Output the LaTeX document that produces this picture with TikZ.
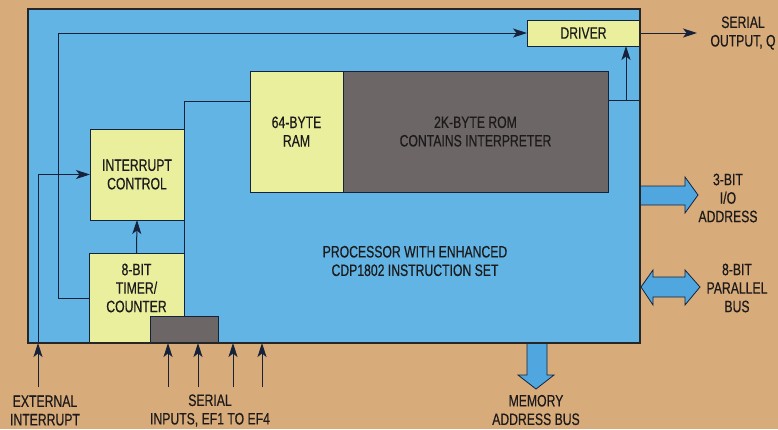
\documentclass[tikz,border=0pt]{standalone}
\usepackage{fontspec}
\setmainfont{Liberation Sans}[FakeStretch=0.74, FakeBold=0.4]
\usetikzlibrary{arrows.meta,positioning,calc}

\definecolor{paper}{RGB}{216,171,122}
\definecolor{chipblue}{RGB}{98,180,228}
\definecolor{busblue}{RGB}{80,166,222}
\definecolor{unityellow}{RGB}{233,239,156}
\definecolor{romgray}{RGB}{108,102,103}
\definecolor{linecol}{RGB}{22,34,58}
\definecolor{ink}{RGB}{28,26,26}

\begin{document}
\begin{tikzpicture}[x=1pt, y=-1pt,
    box/.style={draw=linecol, line width=1pt, rectangle, inner sep=0pt, outer sep=0pt, align=center, text=ink,
                font=\fontsize{16.5}{18.5}\selectfont},
    chip/.style={box, fill=chipblue, draw=black!85, line width=2.6pt},
    unit/.style={box, fill=unityellow},
    rom/.style={box, fill=romgray},
    link/.style={draw=linecol, line width=1pt},
    arrow/.style={link, -{Stealth[length=14pt, width=9pt, inset=3.5pt]}},
    bus/.style={fill=busblue, draw=linecol, line width=0.8pt, line join=miter},
    caption/.style={align=center, text=ink, inner sep=0pt, font=\fontsize{16.5}{18.5}\selectfont}
]

% Background
\fill[paper] (0,0) rectangle (778,429);
\useasboundingbox (0,0) rectangle (778,429);

% Blocks
\node[chip, minimum width=612pt, minimum height=334pt] (cpu) at (334,176) {};
\node[unit, minimum width=113pt, minimum height=26pt] (driver) at (583.5,33) {DRIVER};
\node[unit, minimum width=93pt, minimum height=121pt] (ram) at (296.5,131.5) {64-BYTE\\RAM};
\node[rom, minimum width=265pt, minimum height=121pt] (rom) at (475.5,131.5) {2K-BYTE ROM\\CONTAINS INTERPRETER};
\node[unit, minimum width=94pt, minimum height=91pt] (intctrl) at (137,174.5) {INTERRUPT\\CONTROL};
\node[unit, minimum width=95pt, minimum height=90pt,
      label={[caption, yshift=10pt]center:{8-BIT\\TIMER/\\COUNTER}}] (timer) at (136.5,298) {};
\node[rom, minimum width=68pt, minimum height=27pt] (flags) at (184,329.5) {};
\node[caption] (proc) at (415,261) {PROCESSOR WITH ENHANCED\\CDP1802 INSTRUCTION SET};

% Internal connections
\coordinate (loop) at (58,33);
\draw[arrow] (timer.west) -| (loop) -- (loop -| driver.west);
\draw[arrow] (timer.north) -- (intctrl.south);
\draw[link] (timer.north east) |- ($(ram.north west)!0.25!(ram.south west)$);
\coordinate (romtap) at ($(rom.north east)!0.24!(rom.south east)$);
\coordinate (qtap) at ($(romtap)+(18,0)$);
\draw[link] (romtap) -- (romtap -| cpu.east);
\draw[arrow] (qtap) -- (qtap |- driver.south);

% External interrupt
\coordinate (extin) at (38,387);
\draw[arrow] (extin) -- (extin |- cpu.south);
\draw[arrow] (extin |- cpu.south) |- (intctrl.west);

% Serial inputs EF1..EF4
\foreach \x [count=\i] in {168,198,233,262} {
  \coordinate (ef\i) at (\x,387);
  \draw[arrow] (ef\i) -- (ef\i |- cpu.south);
}

% Serial output
\coordinate (qend) at (697,33);
\draw[arrow] (driver.east) -- (qend);

% Buses
\draw[bus] (640,186) -- (685,186) -- (685,177) -- (698,195) -- (685,213) -- (685,205) -- (640,205) -- cycle;
\draw[bus] (641,287) -- (653,270) -- (653,277) -- (685,277) -- (685,270) -- (700,287)
           -- (685,305) -- (685,297) -- (653,297) -- (653,305) -- cycle;
\draw[bus] (527,343) -- (527,375) -- (518,375) -- (536,389) -- (554,375) -- (547,375) -- (547,343) -- cycle;

% Chip outline on top
\draw[black!85, line width=2.6pt] (cpu.north west) rectangle (cpu.south east);

% Outside labels
\node[caption] (qlab) at (743,33) {SERIAL\\OUTPUT, Q};
\node[caption] (iolab) at (728,198) {3-BIT\\I/O\\ADDRESS};
\node[caption] (buslab) at (737,288) {8-BIT\\PARALLEL\\BUS};
\node[caption] (memlab) at (536,410) {MEMORY\\ADDRESS BUS};
\node[caption] (extlab) at (45,410.5) {EXTERNAL\\INTERRUPT};
\node[caption] (eflab) at (210,410.5) {SERIAL\\INPUTS, EF1 TO EF4};

\end{tikzpicture}
\end{document}
